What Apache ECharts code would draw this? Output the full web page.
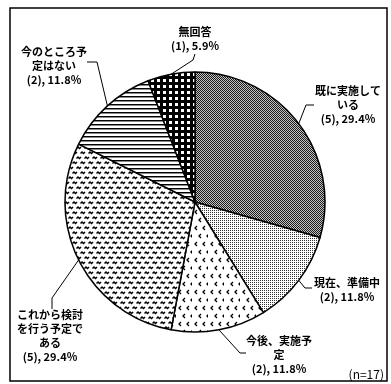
<!DOCTYPE html>
<html>
<head>
<meta charset="utf-8">
<script src="https://cdn.jsdelivr.net/npm/echarts@6/dist/echarts.min.js"></script>
<style>
  html, body { margin: 0; padding: 0; background: #fff; }
  #chart { width: 391px; height: 384px; }
</style>
</head>
<body>
<div id="chart"></div>
<script>
// answers, clockwise from 12 o'clock
const categories = ['既に実施している', '現在、準備中', '今後、実施予定', 'これから検討を行う予定である', '今のところ予定はない', '無回答']
const labelTexts = ['既に実施して\nいる', '現在、準備中', '今後、実施予\n定', 'これから検討\nを行う予定で\nある', '今のところ予\n定はない', '無回答']
const counts = [5, 2, 2, 5, 2, 1]
const percents = [29.4, 11.8, 11.8, 29.4, 11.8, 5.9]
const total = 17

// label anchors and leader line elbows (layout only)
const labelPos = [[348, 105], [347, 290], [279, 355], [50, 336], [54, 66], [195, 39]]
const lineBends = [
  [[306, 105], [314, 105]],
  [[305, 288], [312, 288]],
  [[240, 353], [246, 353]],
  [[52, 298], [52, 309]],
  [[97, 62], [87, 62]],
  [[193, 60], [195, 54]]
]

const CX = 195, CY = 202, R = 130

function pattern(w, h, draw) {
  const c = document.createElement('canvas')
  c.width = w
  c.height = h
  const ctx = c.getContext('2d')
  ctx.fillStyle = '#fff'
  ctx.fillRect(0, 0, w, h)
  draw(ctx)
  return { image: c, repeat: 'repeat' }
}

const fills = [
  // dithered gray
  pattern(2, 2, ctx => {
    ctx.fillStyle = '#c4c4c4'
    ctx.fillRect(0, 0, 2, 2)
    ctx.fillStyle = '#1a1a1a'
    ctx.fillRect(0, 0, 1, 1)
    ctx.fillRect(1, 1, 1, 1)
  }),
  // fine stipple
  pattern(2, 2, ctx => {
    ctx.fillStyle = '#333'
    ctx.fillRect(0, 0, 1, 1)
  }),
  // sparse chevrons
  pattern(16, 16, ctx => {
    ctx.strokeStyle = '#000'
    ctx.lineWidth = 1.3
    ;[[3, 2], [11, 2], [7, 10], [15, 10]].forEach(p => {
      ctx.beginPath()
      ctx.moveTo(p[0] + 2, p[1])
      ctx.lineTo(p[0], p[1] + 2)
      ctx.lineTo(p[0] + 2, p[1] + 4)
      ctx.stroke()
    })
  }),
  // dense squiggles, staggered rows
  pattern(8, 10, ctx => {
    ctx.strokeStyle = '#000'
    ctx.lineWidth = 1.5
    ;[[0, 1], [4, 6], [-4, 6]].forEach(p => {
      ctx.beginPath()
      ctx.moveTo(p[0] + 0.5, p[1] + 2.5)
      ctx.lineTo(p[0] + 2, p[1] + 1)
      ctx.lineTo(p[0] + 3.5, p[1] + 2.5)
      ctx.lineTo(p[0] + 5, p[1] + 1)
      ctx.stroke()
    })
  }),
  // horizontal stripes
  pattern(4, 4, ctx => {
    ctx.fillStyle = '#000'
    ctx.fillRect(0, 0, 4, 1)
    ctx.fillStyle = '#888'
    ctx.fillRect(0, 1, 4, 1)
  }),
  // black with white squares
  pattern(6, 6, ctx => {
    ctx.fillStyle = '#000'
    ctx.fillRect(0, 0, 6, 6)
    ctx.fillStyle = '#fff'
    ctx.fillRect(1, 1, 3, 3)
  })
]

function edgePoint(idx) {
  let before = 0
  for (let i = 0; i < idx; i++) before += counts[i]
  const mid = (before + counts[idx] / 2) / total * Math.PI * 2
  const a = Math.PI / 2 - mid
  return [CX + R * Math.cos(a), CY - R * Math.sin(a)]
}

const chart = echarts.init(document.getElementById('chart'))
const textStyle = {
  color: '#000',
  fontFamily: 'Noto Sans CJK JP',
  fontWeight: 'bold',
  fontSize: 11,
  lineHeight: 14,
  align: 'center'
}

chart.setOption({
  backgroundColor: '#fff',
  animation: false,
  graphic: [
    {
      type: 'rect',
      shape: { x: 10, y: 8, width: 377, height: 373 },
      style: { fill: 'none', stroke: '#000', lineWidth: 1.5 }
    },
    {
      type: 'text',
      x: 384,
      y: 374,
      style: {
        text: '(n=17)',
        fill: '#000',
        font: '12px "Noto Sans CJK JP"',
        align: 'right',
        verticalAlign: 'middle'
      }
    }
  ],
  series: [
    {
      type: 'pie',
      center: [CX, CY],
      radius: R,
      startAngle: 90,
      clockwise: true,
      avoidLabelOverlap: false,
      silent: true,
      itemStyle: { borderColor: '#000', borderWidth: 1.5 },
      label: {
        show: true,
        ...textStyle,
        formatter: p => labelTexts[p.dataIndex] + '\n(' + counts[p.dataIndex] + '), ' + percents[p.dataIndex].toFixed(1) + '%'
      },
      labelLine: {
        show: true,
        length: 8,
        length2: 8,
        lineStyle: { color: '#000', width: 1 }
      },
      labelLayout: params => {
        const i = params.dataIndex
        return {
          x: labelPos[i][0],
          y: labelPos[i][1],
          align: 'center',
          verticalAlign: 'middle',
          labelLinePoints: [edgePoint(i), lineBends[i][0], lineBends[i][1]]
        }
      },
      data: categories.map((name, i) => ({
        name: name,
        value: counts[i],
        itemStyle: { color: fills[i] }
      }))
    }
  ]
})
</script>
</body>
</html>
